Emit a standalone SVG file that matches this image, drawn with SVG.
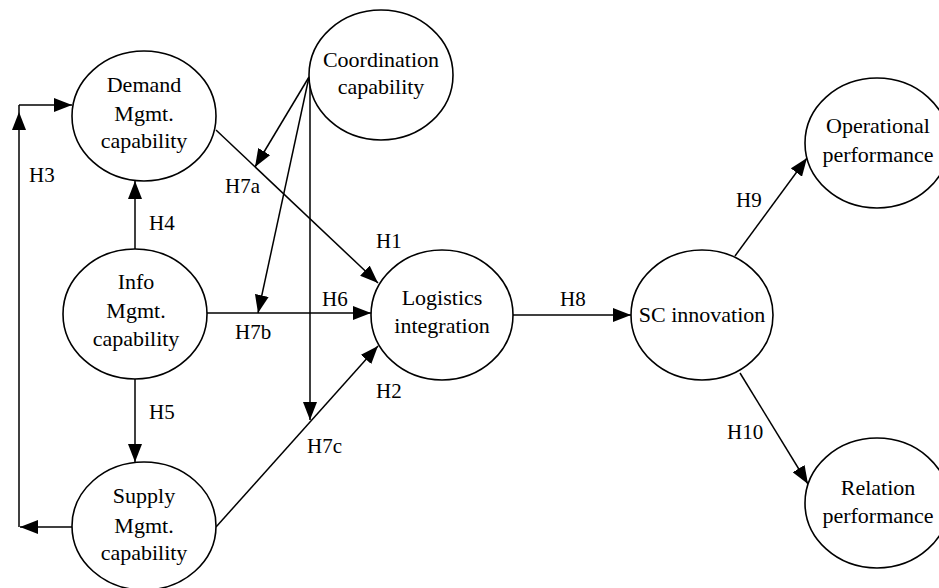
<svg xmlns="http://www.w3.org/2000/svg" width="939" height="588" viewBox="0 0 939 588" font-family="Liberation Serif">
<style>
.n ellipse{fill:#fff;stroke:#000;stroke-width:1.6}
.n text{text-anchor:middle}
.c line{stroke:#000;stroke-width:1.5;fill:none;marker-end:url(#ah)}
.c .p{marker-end:none}
</style>
<defs>
<marker id="ah" viewBox="0 0 18 14" refX="18" refY="7" markerWidth="18" markerHeight="14" markerUnits="userSpaceOnUse" orient="auto">
<path d="M0,0 L18,7 L0,14 Z" fill="#000"/>
</marker>
</defs>
<rect width="939" height="588" fill="#fff"/>
<g class="c" id="connectors">
<line x1="19" y1="527" x2="19" y2="112"/>
<line class="p" x1="19" y1="105" x2="19" y2="112"/>
<line x1="19" y1="105" x2="72" y2="105"/>
<line x1="72" y1="527" x2="20" y2="527"/>
<line x1="135" y1="249" x2="135" y2="181"/>
<line x1="135" y1="379" x2="135" y2="462"/>
<line x1="216" y1="130" x2="378" y2="283"/>
<line x1="207" y1="313" x2="371" y2="313"/>
<line x1="216" y1="527" x2="378" y2="346"/>
<line x1="309" y1="77" x2="255" y2="167"/>
<line x1="309" y1="77" x2="258" y2="313"/>
<line x1="310" y1="77" x2="310" y2="420"/>
<line x1="513" y1="315" x2="631" y2="315"/>
<line x1="735" y1="256" x2="807" y2="158"/>
<line x1="740" y1="373" x2="808" y2="484"/>
</g>
<g id="labels">
<text x="29" y="182" style="font-family:'Liberation Serif';font-size:21px">H3</text>
<text x="149" y="230" style="font-family:'Liberation Serif';font-size:21px">H4</text>
<text x="149" y="419" style="font-family:'Liberation Serif';font-size:21px">H5</text>
<text x="376" y="248" style="font-family:'Liberation Serif';font-size:21px">H1</text>
<text x="225" y="193" style="font-family:'Liberation Serif';font-size:21px">H7a</text>
<text x="235" y="339" style="font-family:'Liberation Serif';font-size:21px">H7b</text>
<text x="322" y="306" style="font-family:'Liberation Serif';font-size:21px">H6</text>
<text x="376" y="398" style="font-family:'Liberation Serif';font-size:21px">H2</text>
<text x="307" y="453" style="font-family:'Liberation Serif';font-size:21px">H7c</text>
<text x="560" y="306" style="font-family:'Liberation Serif';font-size:21px">H8</text>
<text x="736" y="207" style="font-family:'Liberation Serif';font-size:21px">H9</text>
<text x="727" y="439" style="font-family:'Liberation Serif';font-size:21px">H10</text>
</g>
<g class="n" id="demand"><ellipse cx="144" cy="116" rx="72" ry="65"/><text x="144" y="92" style="font-family:'Liberation Serif';font-size:22px">Demand</text><text x="144" y="121" style="font-family:'Liberation Serif';font-size:22px">Mgmt.</text><text x="144" y="148" style="font-family:'Liberation Serif';font-size:22px">capability</text></g>
<g class="n" id="coordination"><ellipse cx="381" cy="75" rx="72" ry="65"/><text x="381" y="67" style="font-family:'Liberation Serif';font-size:22px">Coordination</text><text x="381" y="94" style="font-family:'Liberation Serif';font-size:22px">capability</text></g>
<g class="n" id="info"><ellipse cx="135" cy="314" rx="72" ry="65"/><text x="136" y="289" style="font-family:'Liberation Serif';font-size:22px">Info</text><text x="136" y="318" style="font-family:'Liberation Serif';font-size:22px">Mgmt.</text><text x="136" y="346" style="font-family:'Liberation Serif';font-size:22px">capability</text></g>
<g class="n" id="supply"><ellipse cx="144" cy="526" rx="72" ry="64"/><text x="144" y="503" style="font-family:'Liberation Serif';font-size:22px">Supply</text><text x="144" y="533" style="font-family:'Liberation Serif';font-size:22px">Mgmt.</text><text x="144" y="560" style="font-family:'Liberation Serif';font-size:22px">capability</text></g>
<g class="n" id="logistics"><ellipse cx="442" cy="315" rx="71" ry="65"/><text x="442" y="305" style="font-family:'Liberation Serif';font-size:22px">Logistics</text><text x="442" y="333" style="font-family:'Liberation Serif';font-size:22px">integration</text></g>
<g class="n" id="scinnovation"><ellipse cx="702" cy="315" rx="71" ry="65"/><text x="702" y="322" style="font-family:'Liberation Serif';font-size:22px">SC innovation</text></g>
<g class="n" id="operational"><ellipse cx="877" cy="143" rx="72" ry="65"/><text x="878" y="133" style="font-family:'Liberation Serif';font-size:22px">Operational</text><text x="878" y="162" style="font-family:'Liberation Serif';font-size:22px">performance</text></g>
<g class="n" id="relation"><ellipse cx="877" cy="503" rx="72" ry="65"/><text x="878" y="495" style="font-family:'Liberation Serif';font-size:22px">Relation</text><text x="878" y="523" style="font-family:'Liberation Serif';font-size:22px">performance</text></g>
</svg>
